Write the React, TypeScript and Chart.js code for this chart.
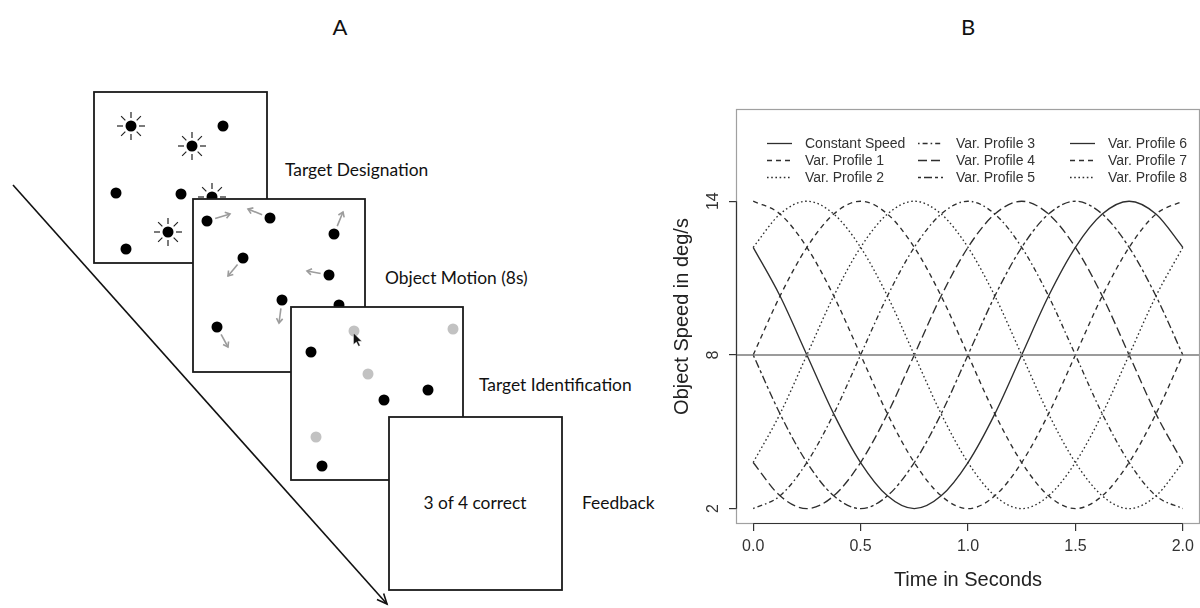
import React, { useEffect, useRef } from "react";
import { Chart, registerables } from "chart.js";

Chart.register(...registerables);

// ---------- Panel B data ----------
const timeSeconds = [0, 0.125, 0.25, 0.375, 0.5, 0.625, 0.75, 0.875, 1, 1.125, 1.25, 1.375, 1.5, 1.625, 1.75, 1.875, 2];
const constantSpeed = 8;
const profile1 = [8, 10.3, 12.2, 13.5, 14, 13.5, 12.2, 10.3, 8, 5.7, 3.8, 2.5, 2, 2.5, 3.8, 5.7, 8];
const profile2 = [3.8, 5.7, 8, 10.3, 12.2, 13.5, 14, 13.5, 12.2, 10.3, 8, 5.7, 3.8, 2.5, 2, 2.5, 3.8];
const profile3 = [2, 2.5, 3.8, 5.7, 8, 10.3, 12.2, 13.5, 14, 13.5, 12.2, 10.3, 8, 5.7, 3.8, 2.5, 2];
const profile4 = [3.8, 2.5, 2, 2.5, 3.8, 5.7, 8, 10.3, 12.2, 13.5, 14, 13.5, 12.2, 10.3, 8, 5.7, 3.8];
const profile5 = [8, 5.7, 3.8, 2.5, 2, 2.5, 3.8, 5.7, 8, 10.3, 12.2, 13.5, 14, 13.5, 12.2, 10.3, 8];
const profile6 = [12.2, 10.3, 8, 5.7, 3.8, 2.5, 2, 2.5, 3.8, 5.7, 8, 10.3, 12.2, 13.5, 14, 13.5, 12.2];
const profile7 = [14, 13.5, 12.2, 10.3, 8, 5.7, 3.8, 2.5, 2, 2.5, 3.8, 5.7, 8, 10.3, 12.2, 13.5, 14];
const profile8 = [12.2, 13.5, 14, 13.5, 12.2, 10.3, 8, 5.7, 3.8, 2.5, 2, 2.5, 3.8, 5.7, 8, 10.3, 12.2];
const profileLabels = ["Var. Profile 1", "Var. Profile 2", "Var. Profile 3", "Var. Profile 4", "Var. Profile 5", "Var. Profile 6", "Var. Profile 7", "Var. Profile 8"];
const constantLabel = "Constant Speed";
const xTicks = [0, 0.5, 1, 1.5, 2];
const yTicks = [2, 8, 14];
const xLimits = [-0.08, 2.08];
const yLimits = [1.4, 17.6];

// ---------- styles ----------
const DASH = {
  solid: [] as number[],
  dashed: [5, 4],
  dotted: [1.6, 2.6],
  dotdash: [1.6, 3, 5, 3],
  longdash: [9, 4],
  twodash: [3, 3, 8, 3],
};
const profileDash = [DASH.dashed, DASH.dotted, DASH.dotdash, DASH.longdash, DASH.twodash, DASH.solid, DASH.dashed, DASH.dotted];
const CURVE = "#2e2e2e";
const FONT = "'Liberation Sans', Arial, sans-serif";

const framePlugin = {
  id: "rFrame",
  afterDraw(chart: any) {
    const { ctx, chartArea: a, scales } = chart;
    const xs = scales.x;
    const ys = scales.y;
    ctx.save();
    // grey plot box
    ctx.setLineDash([]);
    ctx.strokeStyle = "#a0a0a0";
    ctx.lineWidth = 1.2;
    ctx.strokeRect(a.left + 0.5, a.top + 0.5, a.right - a.left - 1, a.bottom - a.top - 1);
    // dark axis lines spanning first..last tick
    ctx.strokeStyle = "#333";
    ctx.lineWidth = 1.2;
    ctx.beginPath();
    ctx.moveTo(xs.getPixelForValue(xTicks[0]), a.bottom - 0.5);
    ctx.lineTo(xs.getPixelForValue(xTicks[xTicks.length - 1]), a.bottom - 0.5);
    ctx.moveTo(a.left + 0.5, ys.getPixelForValue(yTicks[0]));
    ctx.lineTo(a.left + 0.5, ys.getPixelForValue(yTicks[yTicks.length - 1]));
    ctx.stroke();
    // rotated y tick labels
    ctx.fillStyle = "#333";
    ctx.font = `16px ${FONT}`;
    ctx.textAlign = "center";
    ctx.textBaseline = "middle";
    ys.ticks.forEach((t: any) => {
      const py = ys.getPixelForValue(t.value);
      ctx.save();
      ctx.translate(a.left - 22, py);
      ctx.rotate(-Math.PI / 2);
      ctx.fillText(String(t.value), 0, 0);
      ctx.restore();
    });
    // legend: 3 columns, column-major
    const colOff = [31, 182, 334];
    const rowOff = [34, 51, 68];
    ctx.font = `14px ${FONT}`;
    ctx.textAlign = "left";
    chart.data.datasets.forEach((ds: any, i: number) => {
      const col = Math.floor(i / 3);
      const row = i % 3;
      const lx = a.left + colOff[col];
      const ly = a.top + rowOff[row];
      ctx.strokeStyle = CURVE;
      ctx.lineWidth = 1.3;
      ctx.setLineDash(ds.borderDash || []);
      ctx.beginPath();
      ctx.moveTo(lx, ly + 0.5);
      ctx.lineTo(lx + 25, ly + 0.5);
      ctx.stroke();
      ctx.setLineDash([]);
      ctx.fillStyle = "#333";
      ctx.fillText(ds.label, lx + 38, ly + 1);
    });
    ctx.restore();
  },
};

// ---------- Panel A diagram helpers ----------
const boxRects = [
  { x: 94, y: 92, w: 173, h: 171 },
  { x: 193, y: 199, w: 172, h: 173 },
  { x: 291, y: 307, w: 172, h: 173 },
  { x: 389, y: 417, w: 173, h: 173 },
];
const box1Dots = [[223, 126], [116, 193], [181, 194], [126, 249]];
const box1Stars = [[131, 126], [192, 146], [212, 197], [168, 232]];
const box2Moves = [
  [207, 221, 230, 214],
  [270, 218, 248, 209],
  [334, 234, 343, 212],
  [243, 258, 228, 276],
  [329, 275, 307, 271],
  [282, 300, 279, 323],
  [217, 327, 228, 347],
];
const box2Hidden = [[339, 305]];
const box3Grey = [[354, 331], [453, 329], [368, 374], [316, 437]];
const box3Black = [[311, 352], [428, 390], [384, 400], [322, 466]];

function headPath(x1: number, y1: number, x2: number, y2: number, len: number, ang: number) {
  const a = Math.atan2(y2 - y1, x2 - x1);
  const p1 = [x2 - len * Math.cos(a - ang), y2 - len * Math.sin(a - ang)];
  const p2 = [x2 - len * Math.cos(a + ang), y2 - len * Math.sin(a + ang)];
  return `M ${p1[0]} ${p1[1]} L ${x2} ${y2} L ${p2[0]} ${p2[1]}`;
}

function Star({ cx, cy }: { cx: number; cy: number }) {
  const rays = [];
  for (let k = 0; k < 8; k++) {
    const a = (k * Math.PI) / 4;
    rays.push(
      <line key={k} x1={cx + 8 * Math.cos(a)} y1={cy + 8 * Math.sin(a)} x2={cx + 14 * Math.cos(a)} y2={cy + 14 * Math.sin(a)} stroke="#222" strokeWidth={1.2} />
    );
  }
  return (
    <g>
      {rays}
      <circle cx={cx} cy={cy} r={5.5} fill="#000" />
    </g>
  );
}

function Box({ r }: { r: { x: number; y: number; w: number; h: number } }) {
  return <rect x={r.x} y={r.y} width={r.w} height={r.h} fill="#fff" stroke="#1a1a1a" strokeWidth={1.8} />;
}

function PanelA() {
  const txt = { fontFamily: "Lato, 'Open Sans', sans-serif", fill: "#111" } as any;
  const cursor = [[0, 0], [0, 16], [4, 12.5], [7, 18.5], [9.3, 17.5], [6.3, 11.5], [11.5, 11.5]];
  const cx0 = 353.5, cy0 = 333, cs = 0.72;
  return (
    <svg width={1200} height={608} style={{ position: "absolute", left: 0, top: 0 }}>
      <text x={340} y={35} textAnchor="middle" fontSize={22} {...txt}>A</text>
      <text x={968} y={35} textAnchor="middle" fontSize={22} {...txt}>B</text>

      {/* diagonal time arrow */}
      <line x1={13} y1={185} x2={387} y2={604} stroke="#111" strokeWidth={1.6} />
      <path d={headPath(13, 185, 387, 604, 11, 0.42)} stroke="#111" strokeWidth={1.6} fill="none" />

      {/* screen 1 */}
      <Box r={boxRects[0]} />
      {box1Dots.map(([x, y], i) => <circle key={"d1" + i} cx={x} cy={y} r={5.5} fill="#000" />)}
      {box1Stars.map(([x, y], i) => <Star key={"s1" + i} cx={x} cy={y} />)}

      {/* screen 2 */}
      <Box r={boxRects[1]} />
      {box2Moves.map(([x, y, ex, ey], i) => {
        const a = Math.atan2(ey - y, ex - x);
        const sx = x + 8.5 * Math.cos(a), sy = y + 8.5 * Math.sin(a);
        return (
          <g key={"m" + i}>
            <line x1={sx} y1={sy} x2={ex} y2={ey} stroke="#9c9c9c" strokeWidth={1.6} />
            <path d={headPath(sx, sy, ex, ey, 5.5, 0.6)} stroke="#9c9c9c" strokeWidth={1.6} fill="none" />
            <circle cx={x} cy={y} r={5.5} fill="#000" />
          </g>
        );
      })}
      {box2Hidden.map(([x, y], i) => <circle key={"h" + i} cx={x} cy={y} r={5.5} fill="#000" />)}

      {/* screen 3 */}
      <Box r={boxRects[2]} />
      {box3Grey.map(([x, y], i) => <circle key={"g3" + i} cx={x} cy={y} r={5.5} fill="#c2c2c2" />)}
      {box3Black.map(([x, y], i) => <circle key={"b3" + i} cx={x} cy={y} r={5.5} fill="#000" />)}
      <polygon points={cursor.map(([px, py]) => `${cx0 + px * cs},${cy0 + py * cs}`).join(" ")} fill="#111" stroke="#fff" strokeWidth={0.4} />

      {/* screen 4 */}
      <Box r={boxRects[3]} />
      <text x={475} y={509} textAnchor="middle" fontSize={17.4} {...txt}>3 of 4 correct</text>

      {/* stage labels */}
      <text x={285} y={176} fontSize={17.4} {...txt}>Target Designation</text>
      <text x={385} y={284} fontSize={17.4} {...txt}>Object Motion (8s)</text>
      <text x={479} y={391} fontSize={17.4} {...txt}>Target Identification</text>
      <text x={582} y={509} fontSize={17.4} {...txt}>Feedback</text>
    </svg>
  );
}

export default function App() {
  const canvasRef = useRef<HTMLCanvasElement>(null);

  useEffect(() => {
    const canvas = canvasRef.current;
    if (!canvas) return;
    const profiles = [profile1, profile2, profile3, profile4, profile5, profile6, profile7, profile8];
    const datasets: any[] = [
      {
        label: constantLabel,
        data: [{ x: xLimits[0], y: constantSpeed }, { x: xLimits[1], y: constantSpeed }],
        borderColor: "#7a7a7a",
        borderWidth: 1.6,
        borderDash: DASH.solid,
        showLine: true,
        pointRadius: 0,
      },
      ...profiles.map((vals, i) => ({
        label: profileLabels[i],
        data: timeSeconds.map((t, j) => ({ x: t, y: vals[j] })),
        borderColor: CURVE,
        borderWidth: 1.35,
        borderDash: profileDash[i],
        showLine: true,
        pointRadius: 0,
        cubicInterpolationMode: "monotone",
      })),
    ];

    const chart = new Chart(canvas, {
      type: "scatter",
      data: { datasets },
      options: {
        animation: false,
        responsive: false,
        devicePixelRatio: 1,
        layout: { padding: { top: 49, left: 0, right: 0, bottom: 0 } },
        plugins: { legend: { display: false }, tooltip: { enabled: false } },
        scales: {
          x: {
            type: "linear",
            min: xLimits[0],
            max: xLimits[1],
            afterBuildTicks: (s: any) => { s.ticks = xTicks.map((v) => ({ value: v })); },
            afterFit: (s: any) => { s.height = 84; },
            ticks: {
              color: "#333",
              padding: 6,
              maxRotation: 0,
              font: { family: FONT, size: 16 },
              callback: (v: any) => Number(v).toFixed(1),
            },
            grid: { drawOnChartArea: false, drawTicks: true, tickLength: 7, color: "#333", lineWidth: 1.2 },
            border: { display: false },
            title: { display: true, text: "Time in Seconds", color: "#222", font: { family: FONT, size: 20, lineHeight: 1.2 }, padding: { top: 0, bottom: 16 } },
          },
          y: {
            type: "linear",
            min: yLimits[0],
            max: yLimits[1],
            afterBuildTicks: (s: any) => { s.ticks = yTicks.map((v) => ({ value: v })); },
            afterFit: (s: any) => { s.width = 96; },
            ticks: { display: false },
            grid: { drawOnChartArea: false, drawTicks: true, tickLength: 7, color: "#333", lineWidth: 1.2 },
            border: { display: false },
            title: { display: true, text: "Object Speed in deg/s", color: "#222", font: { family: FONT, size: 20, lineHeight: 1.2 }, padding: { top: 30, bottom: 0 } },
          },
        },
      } as any,
      plugins: [framePlugin],
    });
    return () => chart.destroy();
  }, []);

  return (
    <div style={{ position: "fixed", left: 0, top: 0, width: 1200, height: 608, background: "#fff", overflow: "hidden" }}>
      <PanelA />
      <div style={{ position: "absolute", left: 640, top: 60, width: 560, height: 548 }}>
        <canvas ref={canvasRef} width={560} height={548} style={{ width: 560, height: 548, display: "block" }} />
      </div>
    </div>
  );
}
